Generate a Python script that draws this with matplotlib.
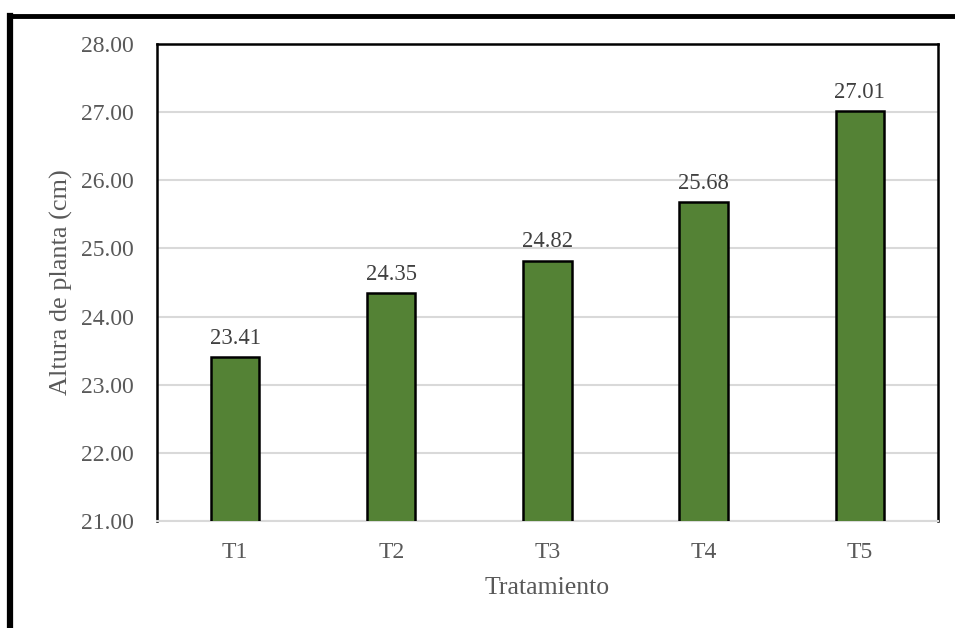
import numpy as np
import matplotlib
matplotlib.use("Agg")
import matplotlib.pyplot as plt
from matplotlib.lines import Line2D

categories = ["T1", "T2", "T3", "T4", "T5"]
heights = [23.41, 24.35, 24.82, 25.68, 27.01]
y_ticks = [21, 22, 23, 24, 25, 26, 27, 28]

plt.rcParams['font.family'] = ['Liberation Serif', 'DejaVu Serif']
gray = '#595959'

fig = plt.figure(figsize=(9.55, 6.28), dpi=100)
ax = fig.add_axes([0.1644, 0.1704, 0.8176, 0.7596])

x = np.arange(len(categories))
bars = ax.bar(x, heights, width=0.31, color='#548235', edgecolor='black', linewidth=1.8, zorder=3)
for xi, h in zip(x, heights):
    ax.text(xi, h + 0.12, f"{h:.2f}", ha='center', va='bottom', fontsize=16.3, color='#404040')

ax.set_ylim(21, 28)
ax.set_xlim(-0.5, 4.5)
ax.set_yticks(y_ticks)
ax.set_yticklabels([f"{t:.2f}" for t in y_ticks])
ax.set_xticks(x)
ax.set_xticklabels(categories)
ax.tick_params(axis='both', length=0, labelsize=17, labelcolor=gray)
ax.tick_params(axis='y', pad=17)
ax.tick_params(axis='x', pad=15)
ax.yaxis.grid(True, color='#d9d9d9', linewidth=1.5, zorder=0)
ax.set_axisbelow(True)

for s in ['left', 'top', 'right']:
    ax.spines[s].set_color('black')
    ax.spines[s].set_linewidth(1.8)
ax.spines['bottom'].set_color('#d9d9d9')
ax.spines['bottom'].set_linewidth(1.5)

ax.set_xlabel("Tratamiento", fontsize=18.5, color=gray, labelpad=10)
ax.set_ylabel("Altura de planta (cm)", fontsize=18.9, color=gray, labelpad=5.5)

# outer frame (top and left edges)
fig.add_artist(Line2D([0.0105, 1.0], [0.9745, 0.9745], transform=fig.transFigure, color='black', linewidth=3.5))
fig.add_artist(Line2D([0.0105, 0.0105], [0.0, 0.9745], transform=fig.transFigure, color='black', linewidth=4.5))

fig.savefig("out.png", dpi=100)
